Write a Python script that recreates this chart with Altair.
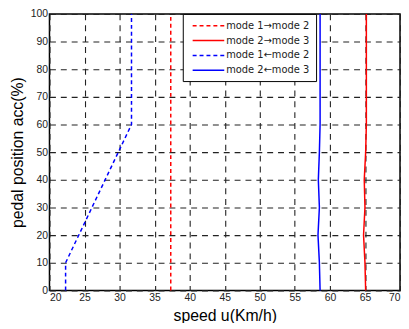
import altair as alt
import pandas as pd

series_names = ["mode 1→mode 2", "mode 2→mode 3", "mode 1←mode 2", "mode 2←mode 3"]
series_colors = ["#ff0000", "#ff0000", "#0000ff", "#0000ff"]
series_dash = [[4, 3], [1, 0], [4, 3], [1, 0]]

up12_y = [0, 100]
up12_x = [37.3, 37.3]
up23_y = [0, 10, 20, 30, 40, 50, 60, 70, 80, 90, 100]
up23_x = [65.1, 65.0, 64.8, 65.0, 64.9, 65.1, 65.2, 65.2, 65.2, 65.2, 65.2]
down12_y = [0, 10, 60, 100]
down12_x = [22.3, 22.3, 31.7, 31.7]
down23_y = [0, 10, 20, 30, 40, 50, 60, 70, 80, 90, 100]
down23_x = [58.6, 58.5, 58.3, 58.5, 58.35, 58.5, 58.6, 58.6, 58.6, 58.6, 58.6]

x_ticks = [20, 25, 30, 35, 40, 45, 50, 55, 60, 65, 70]
y_ticks = [0, 10, 20, 30, 40, 50, 60, 70, 80, 90, 100]

rows = []
for name, xs, ys in [
    (series_names[0], up12_x, up12_y),
    (series_names[1], up23_x, up23_y),
    (series_names[2], down12_x, down12_y),
    (series_names[3], down23_x, down23_y),
]:
    for xv, yv in zip(xs, ys):
        rows.append({"series": name, "speed": xv, "pedal": yv})
df = pd.DataFrame(rows)

FONT = "Liberation Sans"

legend = alt.Legend(
    title=None,
    orient="none",
    legendX=135,
    legendY=0,
    symbolType="M-3.2,0H3.2",
    symbolSize=100,
    symbolStrokeWidth=1.5,
    symbolOffset=14,
    labelOffset=12,
    labelFont="DejaVu Sans",
    labelFontSize=10,
    labelColor="#222",
    rowPadding=4,
    padding=6,
    strokeColor="black",
    fillColor="white",
)

chart = (
    alt.Chart(df)
    .mark_line(strokeWidth=1.5)
    .encode(
        x=alt.X(
            "speed:Q",
            scale=alt.Scale(domain=[20, 70], nice=False),
            axis=alt.Axis(values=x_ticks, title="speed u(Km/h)"),
        ),
        y=alt.Y(
            "pedal:Q",
            scale=alt.Scale(domain=[0, 100], nice=False),
            axis=alt.Axis(values=y_ticks, title="pedal position acc(%)"),
        ),
        color=alt.Color(
            "series:N",
            scale=alt.Scale(domain=series_names, range=series_colors),
            legend=legend,
        ),
        strokeDash=alt.StrokeDash(
            "series:N",
            scale=alt.Scale(domain=series_names, range=series_dash),
            legend=legend,
        ),
        order=alt.Order("pedal:Q"),
        detail="series:N",
    )
    .properties(
        width=355,
        height=280,
        autosize=alt.AutoSizeParams(type="none"),
        padding={"left": 42, "top": 4, "right": 1, "bottom": 31},
    )
    .configure_view(stroke="black", strokeWidth=1.5)
    .configure_axis(
        grid=True,
        gridColor="#222",
        gridDash=[6, 5],
        gridWidth=1.1,
        gridOpacity=1,
        domain=False,
        ticks=False,
        labelFont=FONT,
        labelFontSize=10.5,
        labelColor="#222",
        labelPadding=2,
        titleFont=FONT,
        titleFontSize=16,
        titleFontWeight="normal",
        titleColor="black",
    )
    .configure_axisX(titlePadding=5)
    .configure_axisY(titlePadding=5)
)

chart.save("out.html", embed_options={"renderer": "svg", "actions": False})
